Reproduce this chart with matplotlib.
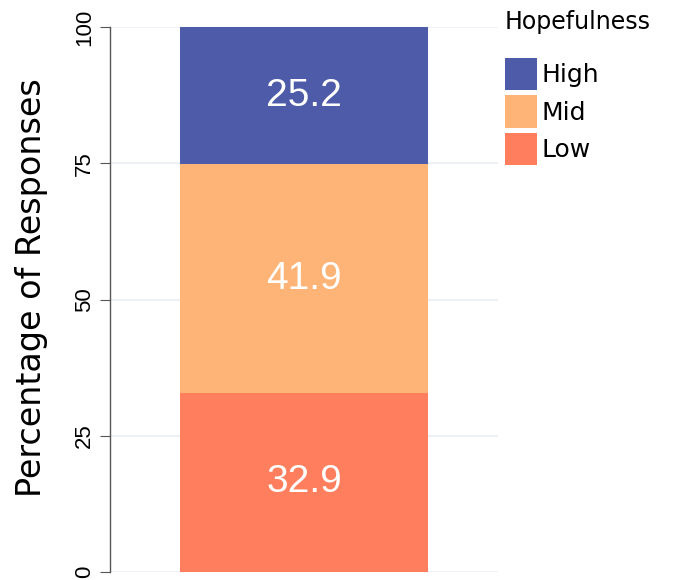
import matplotlib
matplotlib.use("Agg")
import matplotlib.pyplot as plt
from matplotlib.patches import Patch

plt.rcParams['font.family'] = ['Liberation Sans', 'DejaVu Sans']

categories = ["Low", "Mid", "High"]
values = [32.9, 41.9, 25.2]
colors = ["#ff7e5e", "#ffb477", "#4e5ba8"]
yticks = [0, 25, 50, 75, 100]

fig = plt.figure(figsize=(6.73, 5.80), dpi=100)
ax = fig.add_axes([0.1635, 0.0138, 0.5765, 0.9396])

bottom = 0.0
for cat, val, col in zip(categories, values, colors):
    ax.bar(0, val, bottom=bottom, width=0.64, color=col, edgecolor='none', zorder=3)
    ax.text(0, bottom + val / 2, f"{val:.1f}", ha='center', va='center',
            color='white', fontsize=28, zorder=4)
    bottom += val

ax.set_xlim(-0.5, 0.5)
ax.set_ylim(0, 100)
ax.set_yticks(yticks)
ax.set_yticklabels([str(t) for t in yticks], rotation=90, va='center', fontsize=16)
ax.set_xticks([])
ax.grid(axis='y', color='#eaeef2', linewidth=1.2, zorder=0)
for s in ['top', 'right', 'bottom']:
    ax.spines[s].set_visible(False)
ax.spines['left'].set_color('#555555')
ax.spines['left'].set_linewidth(1.0)
ax.tick_params(axis='y', length=7, color='#555555', pad=4)
ax.set_ylabel("Percentage of Responses", fontsize=24, family=['DejaVu Sans'],
              ha='center', va='center', rotation_mode='default')
ax.yaxis.set_label_coords(-0.2036, 0.522)

# legend title drawn on its own line above the colour keys
fig.text(505 / 673, 1 - 22 / 580, "Hopefulness", ha='left', va='center',
         fontsize=17, family=['DejaVu Sans'])

handles = [Patch(facecolor=c, edgecolor='none') for c in colors[::-1]]
leg = fig.legend(handles, categories[::-1],
                 loc='upper left', bbox_to_anchor=(505 / 673, 1 - 58 / 580),
                 frameon=False, prop={'family': 'DejaVu Sans', 'size': 18},
                 handlelength=1.28, handleheight=1.62, handletextpad=0.2,
                 labelspacing=0.2, borderpad=0, borderaxespad=0)

fig.savefig("out.png", dpi=100)
